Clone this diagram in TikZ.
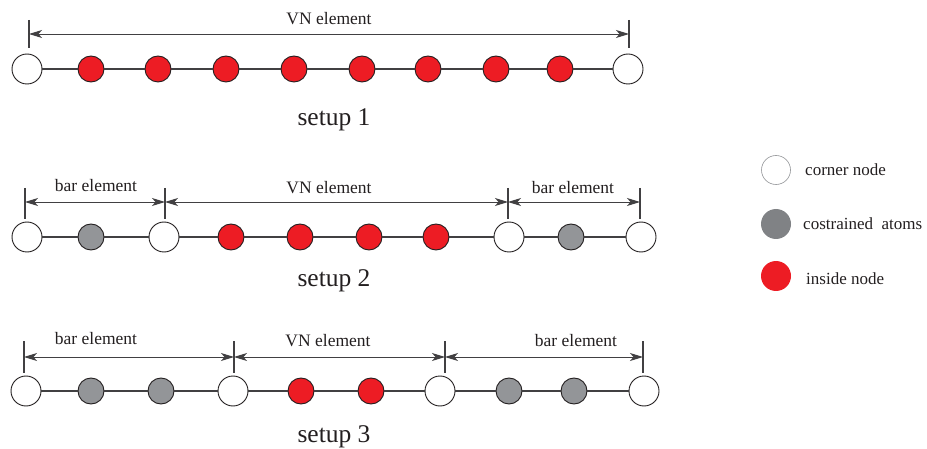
\documentclass[tikz,border=0pt]{standalone}
\usepackage{fontspec}
\setmainfont{Liberation Serif}
\usetikzlibrary{arrows.meta}

\definecolor{nodered}{HTML}{ED1C24}
\definecolor{atomgray}{HTML}{939598}
\definecolor{keygray}{HTML}{808285}
\definecolor{rim}{HTML}{231F20}
\definecolor{wire}{HTML}{414042}

\tikzset{
  cornernode/.style={circle, draw=rim, fill=white, line width=0.9pt, minimum size=30pt, inner sep=0pt},
  insidenode/.style={circle, draw=rim, fill=nodered, line width=0.9pt, minimum size=26pt, inner sep=0pt},
  atomnode/.style={circle, draw=rim, fill=atomgray, line width=0.9pt, minimum size=26pt, inner sep=0pt},
  chain/.style={draw=wire, line width=1.5pt},
  tick/.style={draw=wire, line width=1.2pt},
  headtip/.tip={Stealth[length=13pt,width=8pt,inset=3.5pt]},
  dimline/.style={draw=wire, line width=0.9pt, headtip-headtip},
  dimlabel/.style={font=\fontsize{17.5}{20}\selectfont, text=rim, inner sep=0pt},
  setuplabel/.style={font=\fontsize{25.5}{30}\selectfont, text=rim, inner sep=0pt},
  keylabel/.style={font=\fontsize{17}{20}\selectfont, text=rim, inner sep=0pt, anchor=west},
}

\begin{document}
\begin{tikzpicture}[x=1pt, y=-1pt]
\useasboundingbox (0,0) rectangle (927,449);

% ---------- setup 1 ----------
\node[cornernode] (a1) at (27,69) {};
\node[insidenode] (a2) at (91,69) {};
\node[insidenode] (a3) at (158,69) {};
\node[insidenode] (a4) at (226,69) {};
\node[insidenode] (a5) at (294,69) {};
\node[insidenode] (a6) at (362,69) {};
\node[insidenode] (a7) at (428,69) {};
\node[insidenode] (a8) at (496,69) {};
\node[insidenode] (a9) at (560,69) {};
\node[cornernode] (a10) at (628,69) {};
\foreach \i/\j in {1/2,2/3,3/4,4/5,5/6,6/7,7/8,8/9,9/10}
  \draw[chain] (a\i) -- (a\j);

\coordinate (p1t) at (29,20);  \coordinate (p1b) at (29,48);
\coordinate (p2t) at (629,20); \coordinate (p2b) at (629,48);
\coordinate (p1) at (29,34);   \coordinate (p2) at (629,34);
\draw[tick] (p1t) -- (p1b);
\draw[tick] (p2t) -- (p2b);
\draw[dimline] (p1) -- (p2);
\node[dimlabel] (l1) at (329,19) {VN element};
\node[setuplabel] (s1) at (334,120) {setup 1};

% ---------- setup 2 ----------
\node[cornernode] (b1) at (27,237) {};
\node[atomnode]   (b2) at (91,237) {};
\node[cornernode] (b3) at (164,237) {};
\node[insidenode] (b4) at (231,237) {};
\node[insidenode] (b5) at (300,237) {};
\node[insidenode] (b6) at (369,237) {};
\node[insidenode] (b7) at (436,237) {};
\node[cornernode] (b8) at (509,237) {};
\node[atomnode]   (b9) at (571,237) {};
\node[cornernode] (b10) at (641,237) {};
\foreach \i/\j in {1/2,2/3,3/4,4/5,5/6,6/7,7/8,8/9,9/10}
  \draw[chain] (b\i) -- (b\j);

\foreach \n/\x in {1/25,2/165,3/508,4/640} {
  \coordinate (q\n t) at (\x,188);
  \coordinate (q\n b) at (\x,219);
  \coordinate (q\n) at (\x,202);
  \draw[tick] (q\n t) -- (q\n b);
}
\draw[dimline] (q1) -- (q2);
\draw[dimline] (q2) -- (q3);
\draw[dimline] (q3) -- (q4);
\node[dimlabel] (l2) at (96,186) {bar element};
\node[dimlabel] (l3) at (329,188) {VN element};
\node[dimlabel] (l4) at (573,188) {bar element};
\node[setuplabel] (s2) at (334,281) {setup 2};

% ---------- setup 3 ----------
\node[cornernode] (c1) at (26,391) {};
\node[atomnode]   (c2) at (91,391) {};
\node[atomnode]   (c3) at (161,391) {};
\node[cornernode] (c4) at (233,391) {};
\node[insidenode] (c5) at (301,391) {};
\node[insidenode] (c6) at (371,391) {};
\node[cornernode] (c7) at (440,391) {};
\node[atomnode]   (c8) at (509,391) {};
\node[atomnode]   (c9) at (574,391) {};
\node[cornernode] (c10) at (644,391) {};
\foreach \i/\j in {1/2,2/3,3/4,4/5,5/6,6/7,7/8,8/9,9/10}
  \draw[chain] (c\i) -- (c\j);

\foreach \n/\x in {1/24,2/234,3/445,4/643} {
  \coordinate (r\n t) at (\x,341);
  \coordinate (r\n b) at (\x,373);
  \coordinate (r\n) at (\x,357);
  \draw[tick] (r\n t) -- (r\n b);
}
\draw[dimline] (r1) -- (r2);
\draw[dimline] (r2) -- (r3);
\draw[dimline] (r3) -- (r4);
\node[dimlabel] (l5) at (96,339) {bar element};
\node[dimlabel] (l6) at (328,341) {VN element};
\node[dimlabel] (l7) at (576,341) {bar element};
\node[setuplabel] (s3) at (334,437) {setup 3};

% ---------- legend ----------
\node[circle, draw=atomgray, line width=0.6pt, fill=white, minimum size=29pt, inner sep=0pt] (k1) at (776,170) {};
\node[circle, fill=keygray, minimum size=30pt, inner sep=0pt] (k2) at (776,224) {};
\node[circle, fill=nodered, minimum size=30pt, inner sep=0pt] (k3) at (776,276) {};
\node[keylabel] (t1) at (805,170) {corner node};
\node[keylabel] (t2) at (803,224) {costrained\ \ atoms};
\node[keylabel] (t3) at (806,279) {inside node};
\end{tikzpicture}
\end{document}
